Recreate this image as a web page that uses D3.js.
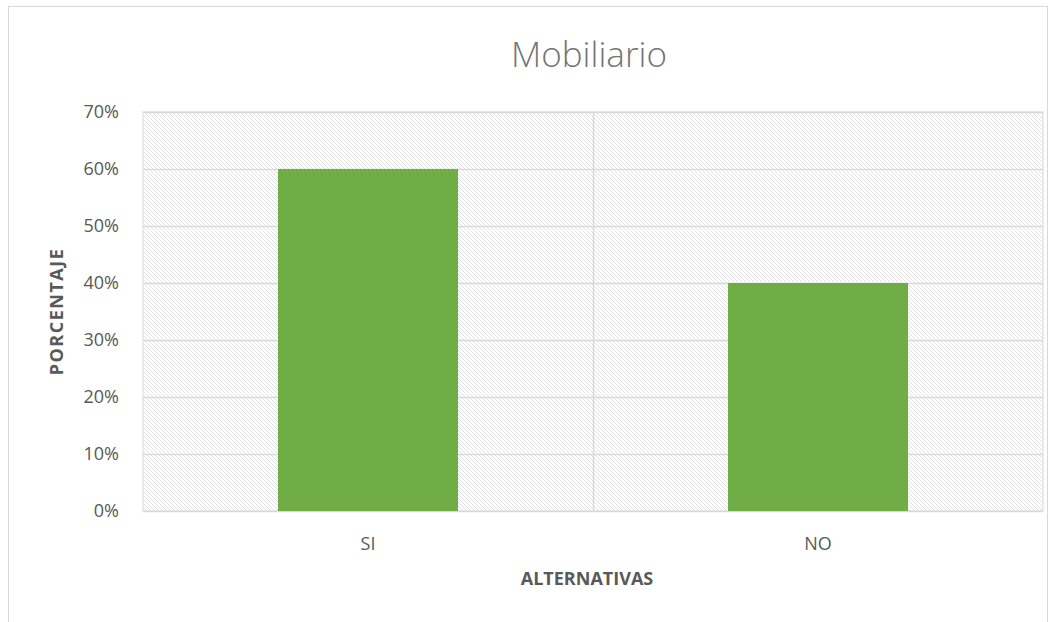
<!DOCTYPE html>
<html>
<head>
<meta charset="utf-8">
<script src="https://cdn.jsdelivr.net/npm/d3@7"></script>
<style>
  body { margin: 0; background: #fff; }
  text { font-family: "Open Sans", "Liberation Sans", sans-serif; }
</style>
</head>
<body>
<script>
// Chart data
const categories = ["SI", "NO"];
const values = [0.60, 0.40];
const yTicks = [0, 0.1, 0.2, 0.3, 0.4, 0.5, 0.6, 0.7];

const w = 1063;
const h = 622;
const plot = { left: 143, right: 1043, top: 112, bottom: 511 };

const svg = d3.select("body").append("svg")
  .attr("width", w)
  .attr("height", h);

// Hatch fill for the plot area
const defs = svg.append("defs");
const pat = defs.append("pattern")
  .attr("id", "hatch")
  .attr("patternUnits", "userSpaceOnUse")
  .attr("width", 4)
  .attr("height", 4);
pat.append("rect").attr("width", 4).attr("height", 4).attr("fill", "#ffffff");
pat.append("path")
  .attr("d", "M-1,-1 L5,5 M-1,3 L1,5 M3,-1 L5,1")
  .attr("stroke", "#e2e2e2")
  .attr("stroke-width", 1);

// Chart frame
svg.append("rect")
  .attr("x", 8.5).attr("y", 6.5)
  .attr("width", 1039).attr("height", 640)
  .attr("fill", "none")
  .attr("stroke", "#d9d9d9");

const x = d3.scaleBand()
  .domain(categories)
  .range([plot.left, plot.right])
  .paddingInner(0)
  .paddingOuter(0);

const y = d3.scaleLinear()
  .domain([0, 0.7])
  .range([plot.bottom, plot.top]);

// Plot background
svg.append("rect")
  .attr("x", plot.left).attr("y", plot.top)
  .attr("width", plot.right - plot.left)
  .attr("height", plot.bottom - plot.top)
  .attr("fill", "url(#hatch)")
  .attr("stroke", "#d9d9d9");

// Horizontal gridlines
svg.append("g")
  .selectAll("line")
  .data(yTicks)
  .join("line")
  .attr("x1", plot.left).attr("x2", plot.right)
  .attr("y1", d => Math.round(y(d)) + 0.5)
  .attr("y2", d => Math.round(y(d)) + 0.5)
  .attr("stroke", "#d9d9d9")
  .attr("stroke-width", 1.5);

// Category divider
svg.append("line")
  .attr("x1", x("NO") + 0.5).attr("x2", x("NO") + 0.5)
  .attr("y1", plot.top).attr("y2", plot.bottom)
  .attr("stroke", "#d9d9d9")
  .attr("stroke-width", 1.5);

// Bars
const barW = x.bandwidth() * 0.4;
svg.append("g")
  .selectAll("rect")
  .data(values)
  .join("rect")
  .attr("x", (d, i) => x(categories[i]) + x.bandwidth() / 2 - barW / 2)
  .attr("y", d => y(d))
  .attr("width", barW)
  .attr("height", d => y(0) - y(d))
  .attr("fill", "#70ad47");

// Y axis labels
const yAxis = d3.axisLeft(y)
  .tickValues(yTicks)
  .tickFormat(d3.format(".0%"))
  .tickSize(0)
  .tickPadding(24);
const gy = svg.append("g")
  .attr("transform", `translate(${plot.left},0)`)
  .call(yAxis);
gy.select(".domain").remove();
gy.selectAll("text")
  .attr("fill", "#595959")
  .style("font-size", "18px")
  .style("font-family", "'Open Sans', sans-serif");

// X axis labels
const xAxis = d3.axisBottom(x).tickSize(0).tickPadding(26);
const gx = svg.append("g")
  .attr("transform", `translate(0,${plot.bottom})`)
  .call(xAxis);
gx.select(".domain").remove();
gx.selectAll("text")
  .attr("fill", "#595959")
  .style("font-size", "18px")
  .style("font-family", "'Open Sans', sans-serif");

// Title
svg.append("text")
  .attr("x", 589)
  .attr("y", 67)
  .attr("text-anchor", "middle")
  .attr("fill", "#757575")
  .style("font-size", "35px")
  .style("font-weight", "300")
  .text("Mobiliario");

// Axis titles
svg.append("text")
  .attr("x", 587)
  .attr("y", 585)
  .attr("text-anchor", "middle")
  .attr("fill", "#595959")
  .style("font-size", "18px")
  .style("font-weight", "bold")
  .text("ALTERNATIVAS");

svg.append("text")
  .attr("transform", `translate(63,${(plot.top + plot.bottom) / 2}) rotate(-90)`)
  .attr("text-anchor", "middle")
  .attr("fill", "#595959")
  .style("font-size", "18px")
  .style("font-weight", "bold")
  .style("letter-spacing", "1.5px")
  .text("PORCENTAJE");
</script>
</body>
</html>
